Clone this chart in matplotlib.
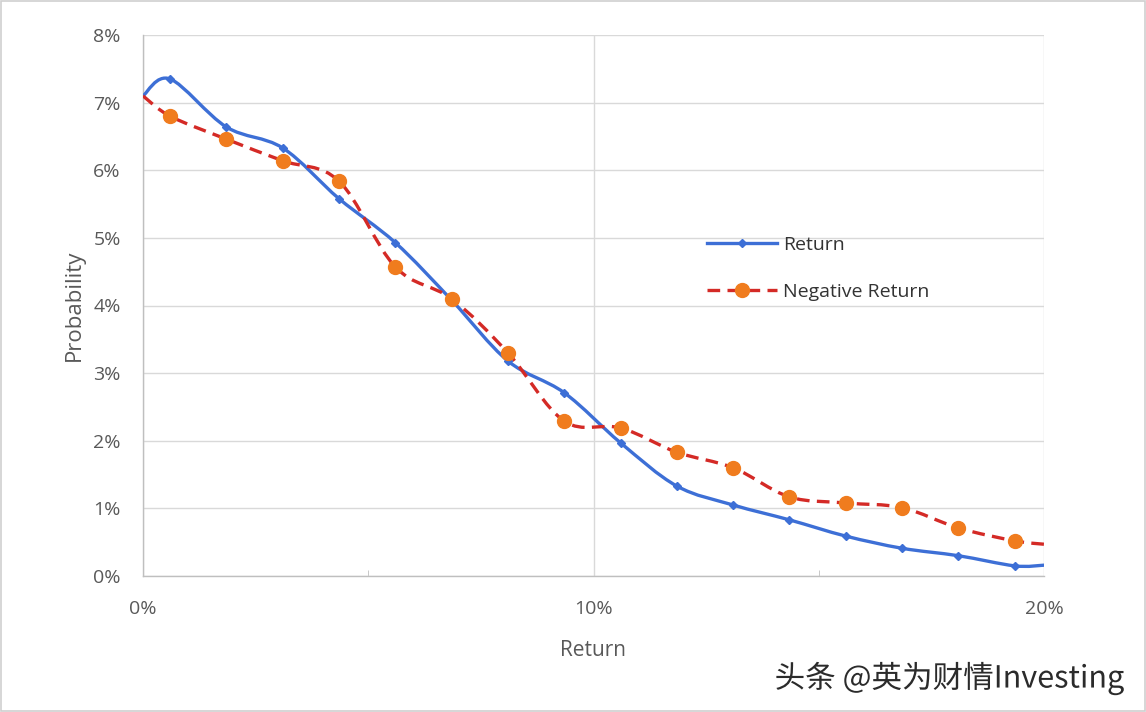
import numpy as np
import matplotlib
matplotlib.use("Agg")
import matplotlib.pyplot as plt
from matplotlib.path import Path
from matplotlib.patches import PathPatch, Rectangle
from matplotlib.lines import Line2D
from matplotlib.ticker import FuncFormatter, FixedLocator
import matplotlib.patheffects as pe

# ---------------- data (percent) ----------------
x_vals = [0.0, 0.6, 1.85, 3.1, 4.35, 5.6, 6.85, 8.1, 9.35, 10.6, 11.85,
          13.1, 14.35, 15.6, 16.85, 18.1, 19.35, 20.0]
return_vals = [7.10, 7.35, 6.64, 6.33, 5.58, 4.93, 4.08, 3.18, 2.71, 1.97,
               1.33, 1.05, 0.83, 0.59, 0.41, 0.30, 0.15, 0.16]
neg_return_vals = [7.10, 6.80, 6.46, 6.14, 5.84, 4.57, 4.10, 3.30, 2.29, 2.19,
                   1.83, 1.60, 1.17, 1.08, 1.01, 0.71, 0.52, 0.47]
series_names = ["Return", "Negative Return"]
x_tick_labels = ["0%", "10%", "20%"]
y_ticks = [0, 1, 2, 3, 4, 5, 6, 7, 8]

BLUE = "#3d6fd6"
RED = "#d42a26"
ORANGE = "#f07c1e"
TXT = "#595959"
GRID = "#d9d9d9"

plt.rcParams['font.family'] = ['Open Sans', 'DejaVu Sans']


def smooth_path(xs, ys):
    xs = np.asarray(xs, float)
    ys = np.asarray(ys, float)
    pts = np.column_stack([xs, ys])
    n = len(pts)
    verts = [pts[0]]
    codes = [Path.MOVETO]
    for i in range(n - 1):
        p0 = pts[i - 1] if i > 0 else pts[i]
        p1 = pts[i]
        p2 = pts[i + 1]
        p3 = pts[i + 2] if i + 2 < n else pts[i + 1]
        c1 = p1 + (p2 - p0) / 6.0
        c2 = p2 - (p3 - p1) / 6.0
        verts += [c1, c2, p2]
        codes += [Path.CURVE4] * 3
    return Path(verts, codes)


fig = plt.figure(figsize=(11.46, 7.12), dpi=100)
fig.patch.set_facecolor("white")
ax = fig.add_axes([143 / 1146, 1 - 576 / 712, (1044 - 143) / 1146, (576 - 35) / 712])

ax.set_xlim(0, 20)
ax.set_ylim(0, 8)

# grid
ax.set_yticks(y_ticks)
ax.yaxis.set_major_formatter(FuncFormatter(lambda v, p: f"{v:.0f}%"))
ax.xaxis.set_major_locator(FixedLocator([0, 10, 20]))
ax.set_xticklabels(x_tick_labels)
ax.xaxis.set_minor_locator(FixedLocator([5, 15]))
ax.grid(True, axis='both', which='major', color=GRID, linewidth=1.0)
ax.set_axisbelow(True)
for s in ["top", "right"]:
    ax.spines[s].set_visible(False)
for s in ["left", "bottom"]:
    ax.spines[s].set_color("#bfbfbf")
    ax.spines[s].set_linewidth(1.0)
ax.tick_params(axis='both', which='major', length=0, labelsize=14, colors=TXT)
ax.tick_params(axis='y', pad=16)
ax.tick_params(axis='x', pad=17)
ax.tick_params(axis='x', which='minor', direction='in', length=4, color="#bfbfbf")

# smoothed lines
blue_patch = PathPatch(smooth_path(x_vals, return_vals), fill=False,
                       edgecolor=BLUE, linewidth=2.4, capstyle='round',
                       joinstyle='round', zorder=3)
ax.add_patch(blue_patch)
red_patch = PathPatch(smooth_path(x_vals, neg_return_vals), fill=False,
                      edgecolor=RED, linewidth=2.4, linestyle=(0, (3.8, 2.2)),
                      zorder=4)
ax.add_patch(red_patch)

# markers (not at the end points)
ax.plot(x_vals[1:-1], return_vals[1:-1], linestyle='none', marker='D',
        markersize=4.5, color=BLUE, zorder=5)
ax.plot(x_vals[1:-1], neg_return_vals[1:-1], linestyle='none', marker='o',
        markersize=10, color=ORANGE, markeredgecolor=ORANGE, zorder=6)

ax.set_xlabel("Return", fontsize=15, color=TXT, labelpad=16)
ax.set_ylabel("Probability", fontsize=16, color=TXT, labelpad=6)

handles = [
    Line2D([], [], color=BLUE, linewidth=2.4, marker='D', markersize=4.5),
    Line2D([], [], color=RED, linewidth=2.4, linestyle=(0, (3.8, 2.2)),
           marker='o', markersize=10, markerfacecolor=ORANGE,
           markeredgecolor=ORANGE),
]
leg = ax.legend(handles, series_names, loc='upper left',
                bbox_to_anchor=((689 - 143) / 901, (576 - 218) / 541),
                frameon=False, fontsize=14, handlelength=3.6,
                labelspacing=1.5, handletextpad=0.35, labelcolor="#333333")

# watermark
fig.text(1124 / 1146, 1 - 678 / 712, "头条 @英为财情Investing",
         ha='right', va='center', fontsize=22, color="#2b2b2b",
         family=['Noto Sans CJK SC', 'DejaVu Sans'],
         path_effects=[pe.withStroke(linewidth=3, foreground='white')])

# outer border
fig.patches.append(Rectangle((0.001, 0.001), 0.998, 0.998, transform=fig.transFigure,
                             fill=False, edgecolor="#cfcfcf", linewidth=1.2))

fig.savefig("out.png", dpi=100, facecolor="white")
